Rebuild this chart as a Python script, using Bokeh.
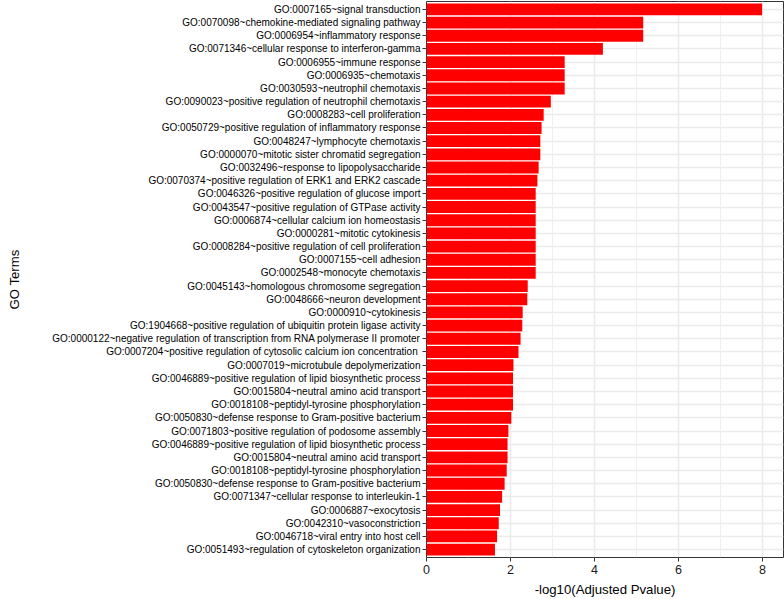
from bokeh.plotting import figure
from bokeh.models import FixedTicker, Range1d, ColumnDataSource
from bokeh.embed import file_html
from bokeh.resources import INLINE

# GO terms, listed top to bottom as in the chart
terms = [
    "GO:0007165~signal transduction",
    "GO:0070098~chemokine-mediated signaling pathway",
    "GO:0006954~inflammatory response",
    "GO:0071346~cellular response to interferon-gamma",
    "GO:0006955~immune response",
    "GO:0006935~chemotaxis",
    "GO:0030593~neutrophil chemotaxis",
    "GO:0090023~positive regulation of neutrophil chemotaxis",
    "GO:0008283~cell proliferation",
    "GO:0050729~positive regulation of inflammatory response",
    "GO:0048247~lymphocyte chemotaxis",
    "GO:0000070~mitotic sister chromatid segregation",
    "GO:0032496~response to lipopolysaccharide",
    "GO:0070374~positive regulation of ERK1 and ERK2 cascade",
    "GO:0046326~positive regulation of glucose import",
    "GO:0043547~positive regulation of GTPase activity",
    "GO:0006874~cellular calcium ion homeostasis",
    "GO:0000281~mitotic cytokinesis",
    "GO:0008284~positive regulation of cell proliferation",
    "GO:0007155~cell adhesion",
    "GO:0002548~monocyte chemotaxis",
    "GO:0045143~homologous chromosome segregation",
    "GO:0048666~neuron development",
    "GO:0000910~cytokinesis",
    "GO:1904668~positive regulation of ubiquitin protein ligase activity",
    "GO:0000122~negative regulation of transcription from RNA polymerase II promoter",
    "GO:0007204~positive regulation of cytosolic calcium ion concentration ",
    "GO:0007019~microtubule depolymerization",
    "GO:0046889~positive regulation of lipid biosynthetic process",
    "GO:0015804~neutral amino acid transport",
    "GO:0018108~peptidyl-tyrosine phosphorylation",
    "GO:0050830~defense response to Gram-positive bacterium",
    "GO:0071803~positive regulation of podosome assembly",
    "GO:0046889~positive regulation of lipid biosynthetic process",
    "GO:0015804~neutral amino acid transport",
    "GO:0018108~peptidyl-tyrosine phosphorylation",
    "GO:0050830~defense response to Gram-positive bacterium",
    "GO:0071347~cellular response to interleukin-1",
    "GO:0006887~exocytosis",
    "GO:0042310~vasoconstriction",
    "GO:0046718~viral entry into host cell",
    "GO:0051493~regulation of cytoskeleton organization",
]

# -log10(adjusted p-value), same order
neglog_p = [
    7.99, 5.16, 5.16, 4.20, 3.29, 3.29, 3.29, 2.96, 2.79, 2.74,
    2.71, 2.71, 2.67, 2.64, 2.60, 2.60, 2.60, 2.60, 2.60, 2.60,
    2.60, 2.41, 2.40, 2.29, 2.28, 2.24, 2.19, 2.07, 2.06, 2.06,
    2.06, 2.02, 1.95, 1.93, 1.93, 1.91, 1.86, 1.80, 1.75, 1.72,
    1.68, 1.63,
]

x_ticks = [0, 2, 4, 6, 8]
x_minor_ticks = [1, 3, 5, 7]

n = len(terms)
rank = list(range(n, 0, -1))  # top row gets the highest position
src = ColumnDataSource(dict(y=rank, x=neglog_p, term=terms))

p = figure(
    width=784, height=599,
    output_backend="svg", toolbar_location=None,
    x_range=Range1d(0, 8.5), y_range=Range1d(0.4, n + 0.6),
    min_border_left=426, min_border_right=1, min_border_top=1, min_border_bottom=41,
    margin=0,
    background_fill_color="white", border_fill_color="white",
)

p.hbar(y="y", left=0, right="x", height=0.9, source=src,
       fill_color="#FF0000", line_color=None)

# frame border
p.outline_line_color = "#333333"
p.outline_line_width = 1

# x axis
p.xaxis.ticker = FixedTicker(ticks=x_ticks, minor_ticks=x_minor_ticks)
p.xaxis.axis_label = "-log10(Adjusted Pvalue)"
p.xaxis.axis_label_text_font = "Liberation Sans"
p.xaxis.axis_label_text_font_style = "normal"
p.xaxis.axis_label_text_font_size = "13.2px"
p.xaxis.axis_label_text_color = "black"
p.xaxis.axis_label_standoff = 5
p.xaxis.major_label_text_font = "Liberation Sans"
p.xaxis.major_label_text_font_size = "12.5px"
p.xaxis.major_label_text_color = "#1a1a1a"
p.xaxis.major_label_standoff = 3
p.xaxis.axis_line_color = None
p.xaxis.major_tick_out = 4
p.xaxis.major_tick_in = 0
p.xaxis.major_tick_line_color = "#333333"
p.xaxis.minor_tick_line_color = None

# y axis
p.yaxis.ticker = FixedTicker(ticks=rank)
p.yaxis.major_label_overrides = {r: t for r, t in zip(rank, terms)}
p.yaxis.axis_label = "GO Terms"
p.yaxis.axis_label_text_font = "Liberation Sans"
p.yaxis.axis_label_text_font_style = "normal"
p.yaxis.axis_label_text_font_size = "13.2px"
p.yaxis.axis_label_text_color = "black"
p.yaxis.axis_label_standoff = 27
p.yaxis.major_label_text_font = "Liberation Sans"
p.yaxis.major_label_text_font_size = "10px"
p.yaxis.major_label_text_color = "black"
p.yaxis.major_label_standoff = 2
p.yaxis.axis_line_color = None
p.yaxis.major_tick_out = 4
p.yaxis.major_tick_in = 0
p.yaxis.major_tick_line_color = "#333333"
p.yaxis.minor_tick_line_color = None

# grid
p.xgrid.grid_line_color = "#EBEBEB"
p.xgrid.grid_line_width = 1.5
p.xgrid.minor_grid_line_color = "#EBEBEB"
p.xgrid.minor_grid_line_width = 0.8
p.ygrid.grid_line_color = "#EBEBEB"
p.ygrid.grid_line_width = 1.5

open("out.html", "w").write(file_html(p, INLINE))
